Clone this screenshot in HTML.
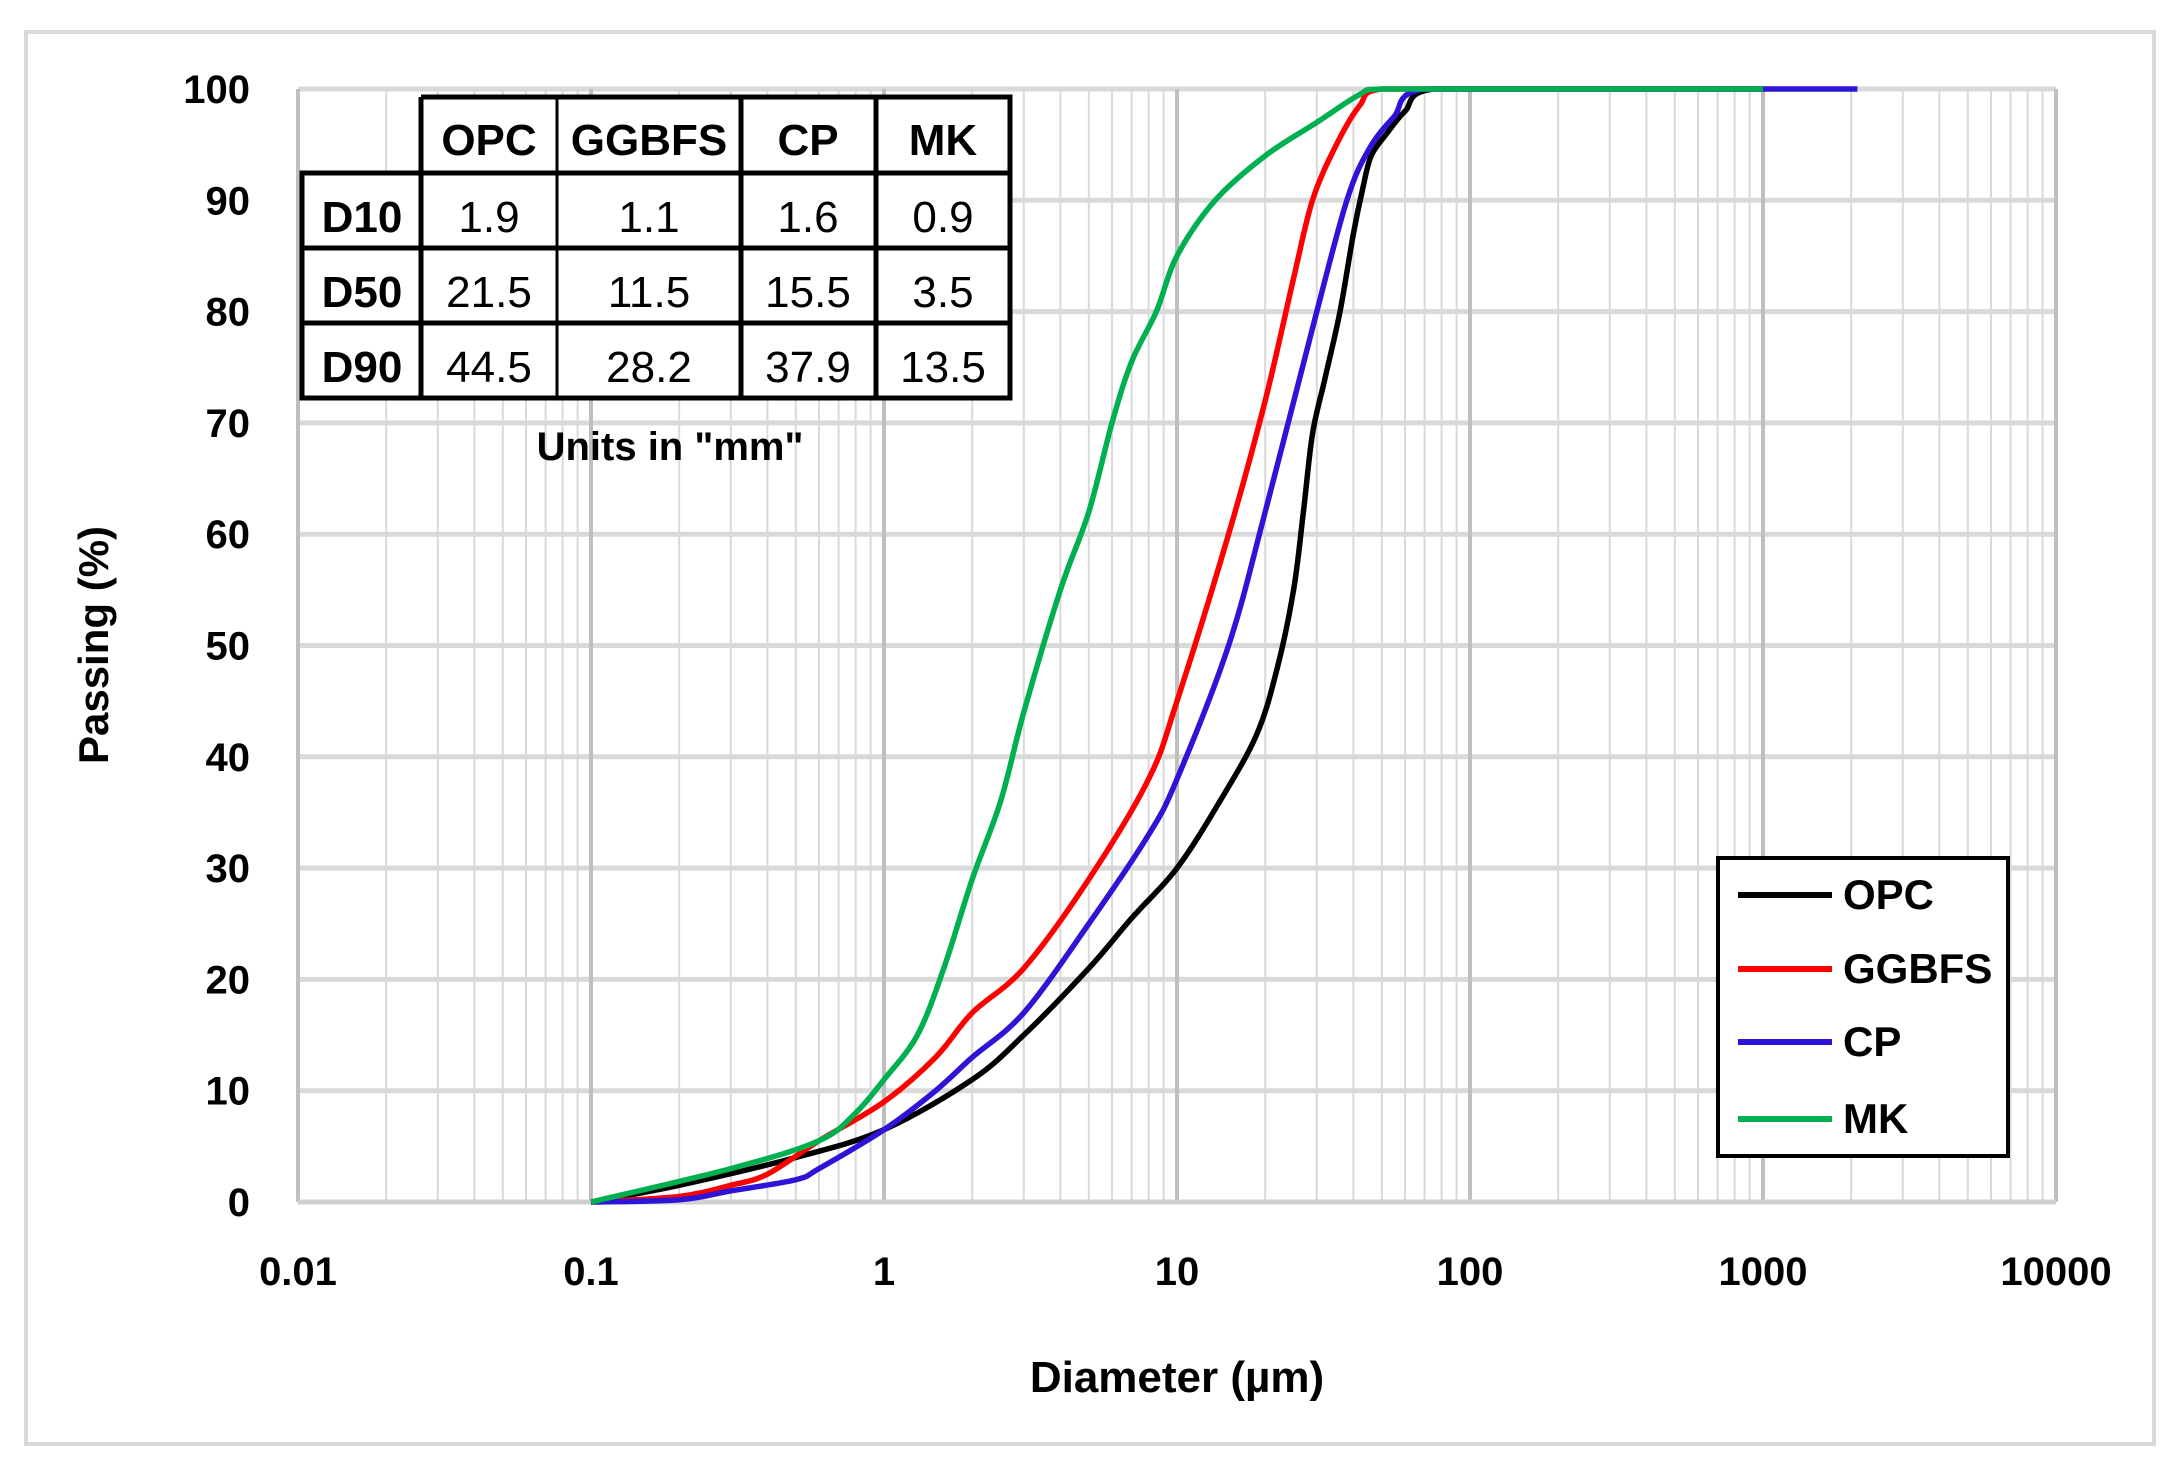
<!DOCTYPE html>
<html><head><meta charset="utf-8"><style>
body{margin:0;background:#fff;}
svg{display:block;}
text{font-family:"Liberation Sans Narrow","Liberation Sans",sans-serif;}
</style></head><body>
<svg id="s" width="2177" height="1466" viewBox="0 0 2177 1466" xmlns="http://www.w3.org/2000/svg">
<rect x="0" y="0" width="2177" height="1466" fill="#fff"/>
<rect x="26" y="32" width="2128" height="1412" fill="#fff" stroke="#d9d9d9" stroke-width="4"/>
<g id="grid"></g>
<g id="curves" fill="none" stroke-width="5.5" stroke-linejoin="round"></g>
<g>
<rect x="302" y="173" width="120" height="225" fill="#fff"/>
<rect x="421" y="97" width="589" height="301" fill="#fff"/>
<g stroke="#000" stroke-width="5" fill="none">
<polyline points="421,97 1010,97 1010,398 302,398 302,173 1010,173"/>
<line x1="421" y1="97" x2="421" y2="398"/>
<line x1="302" y1="248" x2="1010" y2="248"/>
<line x1="302" y1="323" x2="1010" y2="323"/>
<line x1="557" y1="97" x2="557" y2="398" stroke-width="3"/>
<line x1="741" y1="97" x2="741" y2="398"/>
<line x1="876" y1="97" x2="876" y2="398"/>
</g>
<g font-size="44" text-anchor="middle" fill="#000">
<text x="489" y="155" font-weight="bold">OPC</text>
<text x="649" y="155" font-weight="bold">GGBFS</text>
<text x="808" y="155" font-weight="bold">CP</text>
<text x="943" y="155" font-weight="bold">MK</text>
<text x="362" y="232" font-weight="bold">D10</text>
<text x="362" y="307" font-weight="bold">D50</text>
<text x="362" y="382" font-weight="bold">D90</text>
<text x="489" y="232">1.9</text><text x="649" y="232">1.1</text><text x="808" y="232">1.6</text><text x="943" y="232">0.9</text>
<text x="489" y="307">21.5</text><text x="649" y="307">11.5</text><text x="808" y="307">15.5</text><text x="943" y="307">3.5</text>
<text x="489" y="382">44.5</text><text x="649" y="382">28.2</text><text x="808" y="382">37.9</text><text x="943" y="382">13.5</text>
</g>
<text x="670" y="460" font-size="40" font-weight="bold" text-anchor="middle">Units in "mm"</text>
</g>
<rect x="1718" y="858" width="290" height="298" fill="#fff" stroke="#000" stroke-width="4"/>
<g stroke-width="6">
<line x1="1738" y1="895" x2="1832" y2="895" stroke="#000"/>
<line x1="1738" y1="969" x2="1832" y2="969" stroke="#ff0000"/>
<line x1="1738" y1="1042" x2="1832" y2="1042" stroke="#2e14d6"/>
<line x1="1738" y1="1119" x2="1832" y2="1119" stroke="#00b050"/>
</g>
<g font-size="42" font-weight="bold">
<text x="1843" y="909">OPC</text>
<text x="1843" y="983">GGBFS</text>
<text x="1843" y="1056">CP</text>
<text x="1843" y="1133">MK</text>
</g>
<g id="ticks" font-size="40" font-weight="bold"></g>
<text transform="translate(108,645) rotate(-90)" font-size="42" font-weight="bold" text-anchor="middle">Passing (%)</text>
<text x="1177" y="1392" font-size="44" font-weight="bold" text-anchor="middle">Diameter (µm)</text>
</svg>
<script>
var NS="http://www.w3.org/2000/svg";
function el(p,t,a,txt){var e=document.createElementNS(NS,t);for(var k in a)e.setAttribute(k,a[k]);if(txt)e.textContent=txt;p.appendChild(e);return e;}
var L=298,R=2056,T=89,B=1202,D=293,X0=884,YS=11.13;
function X(d){return X0+D*Math.log10(d);}
function Y(p){return B-p*YS;}
var g=document.getElementById('grid');
for(var k=-2;k<4;k++)for(var m=2;m<10;m++){var x=X(m*Math.pow(10,k));el(g,'line',{x1:x,y1:T,x2:x,y2:B,stroke:'#d9d9d9','stroke-width':2});}
for(var i=0;i<=10;i++){el(g,'line',{x1:L,y1:Y(i*10),x2:R,y2:Y(i*10),stroke:'#d9d9d9','stroke-width':5});}
for(var k=-2;k<=4;k++){var x=X(Math.pow(10,k));el(g,'line',{x1:x,y1:T,x2:x,y2:B,stroke:'#bfbfbf','stroke-width':4});}
el(g,'line',{x1:L,y1:B,x2:R,y2:B,stroke:'#d0d0d0','stroke-width':5});
var tk=document.getElementById('ticks');
for(var i=0;i<=10;i++)el(tk,'text',{x:250,y:Y(i*10)+14,'text-anchor':'end'},String(i*10));
var labs=['0.01','0.1','1','10','100','1000','10000'];
for(var k=0;k<7;k++)el(tk,'text',{x:X(Math.pow(10,k-2)),y:1285,'text-anchor':'middle'},labs[k]);
var data={
'#000':[[0.1,0],[0.2,1.5],[0.5,4],[1,6.5],[2,11],[3,15],[5,21],[7,25.5],[10,30],[14,36],[18.7,42],[22,48],[25,55],[27,62],[29,69],[32,74],[36,80],[40,87],[43,91],[46,94],[52,96],[60,98],[75,100],[1000,100]],
'#ff0000':[[0.1,0],[0.2,0.5],[0.3,1.5],[0.4,2.5],[0.6,5.5],[1,9],[1.5,13],[2,17],[3,21],[5,29],[8,38],[10,45],[15,60],[20,72],[25,83],[29,90],[35,95],[42,98.5],[50,100],[1000,100]],
'#2e14d6':[[0.1,0],[0.2,0.2],[0.3,1],[0.5,2],[0.6,3],[1,6.5],[1.5,10],[2,13],[3,17],[5,25],[8,33],[10,38],[15,50],[20,62],[30,80],[38,90],[45,94.5],[55,97.5],[70,100],[2100,100]],
'#00b050':[[0.1,0],[0.3,3],[0.6,5.5],[0.8,8],[1,11],[1.3,15],[1.6,21],[2,29],[2.5,36],[3,44],[4,55],[5,62],[6,70],[7,75.5],[8.5,80],[10,85],[13.5,90],[20,94],[30,97],[42,99.5],[50,100],[1000,100]]};
var c=document.getElementById('curves');
function cl(v,a,b){var lo=Math.min(a,b),hi=Math.max(a,b);return Math.max(lo,Math.min(hi,v));}
['#000','#ff0000','#2e14d6','#00b050'].forEach(function(col){
 var P=data[col].map(function(p){return [X(p[0]),Y(p[1])];});
 var d='M'+P[0][0]+','+P[0][1];
 for(var i=0;i<P.length-1;i++){var p0=P[i-1]||P[i],p1=P[i],p2=P[i+1],p3=P[i+2]||p2;
  var c1=[cl(p1[0]+(p2[0]-p0[0])/6,p1[0],p2[0]),cl(p1[1]+(p2[1]-p0[1])/6,p1[1],p2[1])];
  var c2=[cl(p2[0]-(p3[0]-p1[0])/6,p1[0],p2[0]),cl(p2[1]-(p3[1]-p1[1])/6,p1[1],p2[1])];
  if(p2[1]==p1[1]){c1[1]=p1[1];c2[1]=p1[1];}
  d+=' C'+c1+' '+c2+' '+p2;}
 el(c,'path',{d:d,stroke:col});
});
</script>
</body></html>
